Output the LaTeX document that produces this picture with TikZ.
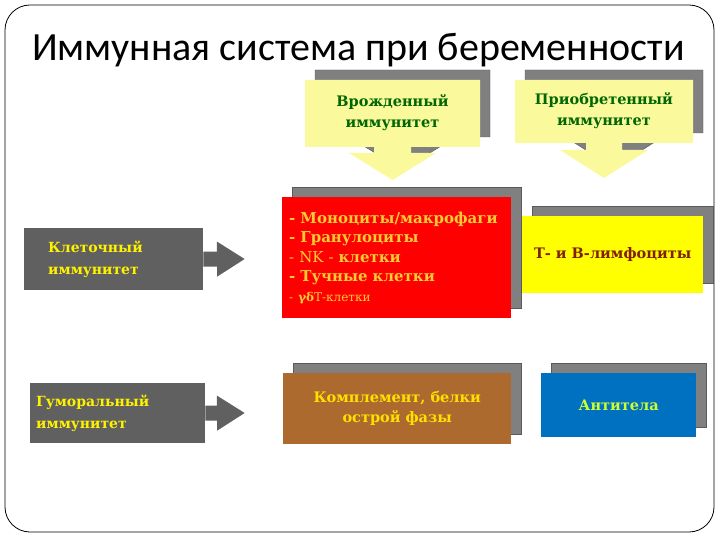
\documentclass[tikz,border=0pt]{standalone}
\usepackage{fontspec}
\setmainfont{DejaVu Serif}
\newfontfamily\titlefont{Carlito}
\usetikzlibrary{arrows.meta, shadows}
\definecolor{boxgray}{HTML}{606060}
\definecolor{shadowgray}{HTML}{808080}
\definecolor{shadowline}{HTML}{5A5A5A}
\definecolor{calloutyellow}{HTML}{FAFA9C}
\definecolor{innategreen}{HTML}{006600}
\definecolor{cellred}{HTML}{FF0000}
\definecolor{goldtext}{HTML}{FFCC33}
\definecolor{lymphyellow}{HTML}{FFFF00}
\definecolor{lymphtext}{HTML}{802000}
\definecolor{complbrown}{HTML}{AD6A2F}
\definecolor{compltext}{HTML}{FFE000}
\definecolor{abblue}{HTML}{0070C0}
\definecolor{abtext}{HTML}{CCFF33}

\begin{document}
\begin{tikzpicture}[x=1pt, y=-1pt]
    % Styles
    \tikzstyle{frame} = [draw, line width=0.8pt, rounded corners=25pt]
    \tikzstyle{boxshadow} = [general shadow={fill=shadowgray, draw=shadowline, shadow xshift=10pt, shadow yshift=10pt}]
    \tikzstyle{callout} = [fill=calloutyellow, boxshadow]
    \tikzstyle{calloutlabel} = [text=innategreen, font=\bfseries\fontsize{14.5}{21}\selectfont, align=center]
    \tikzstyle{sidebox} = [rectangle, fill=boxgray, text=yellow, anchor=north west, inner ysep=0pt, align=left, font=\bfseries\fontsize{14}{22}\selectfont]
    \tikzstyle{block} = [rectangle, anchor=north west, inner sep=0pt, align=center, boxshadow, font=\bfseries\fontsize{14.5}{20}\selectfont]
    \tikzstyle{fat} = [draw=boxgray, line width=15pt, -{Triangle[length=28pt, width=33pt]}]

    \useasboundingbox (0,0) rectangle (720,540);
    \path [frame] (5,5) rectangle (714,532);

    % Title
    \node [anchor=base west, inner sep=0pt, font=\titlefont\fontsize{40}{40}\selectfont] (title) at (32,61) {Иммунная система при беременности};

    % Callouts
    \path [callout] (305,80) -- (480,80) -- (480,147) -- (411,147) -- (411,153) -- (436,153) -- (392.5,180)
        -- (349,153) -- (374,153) -- (374,147) -- (305,147) -- cycle;
    \node [calloutlabel] (innate) at (392.5,113) {Врожденный\\иммунитет};
    \path [callout] (515,80) -- (693,80) -- (693,143) -- (622,143) -- (622,150) -- (648,150) -- (604,178)
        -- (560,150) -- (586,150) -- (586,143) -- (515,143) -- cycle;
    \node [calloutlabel] (acquired) at (604,111) {Приобретенный\\иммунитет};

    % Side boxes
    \node [sidebox, minimum height=62pt, inner xsep=24pt, text width=131pt] (cell) at (24,228) {Клеточный\\иммунитет};
    \node [sidebox, minimum height=60pt, inner xsep=6pt, text width=163pt] (humoral) at (30,383) {Гуморальный\\иммунитет};
    \coordinate (celltip) at (245,259);
    \coordinate (humoraltip) at (245,413);
    \draw [fat] (cell.east) -- (celltip);
    \draw [fat] (humoral.east) -- (humoraltip);

    % Blocks
    \node [block, fill=cellred, text=goldtext, minimum width=229pt, minimum height=121pt, align=left, inner xsep=7pt, text width=215pt, font=\bfseries\fontsize{15}{19.5}\selectfont] (cells) at (282,197)
        {- Моноциты/макрофаги\\- Гранулоциты\\{\mdseries - NK -} клетки\\- Тучные клетки\\{\mdseries\fontsize{12}{14}\selectfont - \textbf{γδ}Т-клетки}};
    \node [block, fill=lymphyellow, text=lymphtext, minimum width=181pt, minimum height=77pt] (lymph) at (522,216) {Т- и В-лимфоциты};
    \node [block, fill=complbrown, text=compltext, minimum width=228pt, minimum height=71pt] (compl) at (283,373) {Комплемент, белки\\острой фазы};
    \node [block, fill=abblue, text=abtext, minimum width=155pt, minimum height=64pt] (antibody) at (541,373) {Антитела};
\end{tikzpicture}
\end{document}
